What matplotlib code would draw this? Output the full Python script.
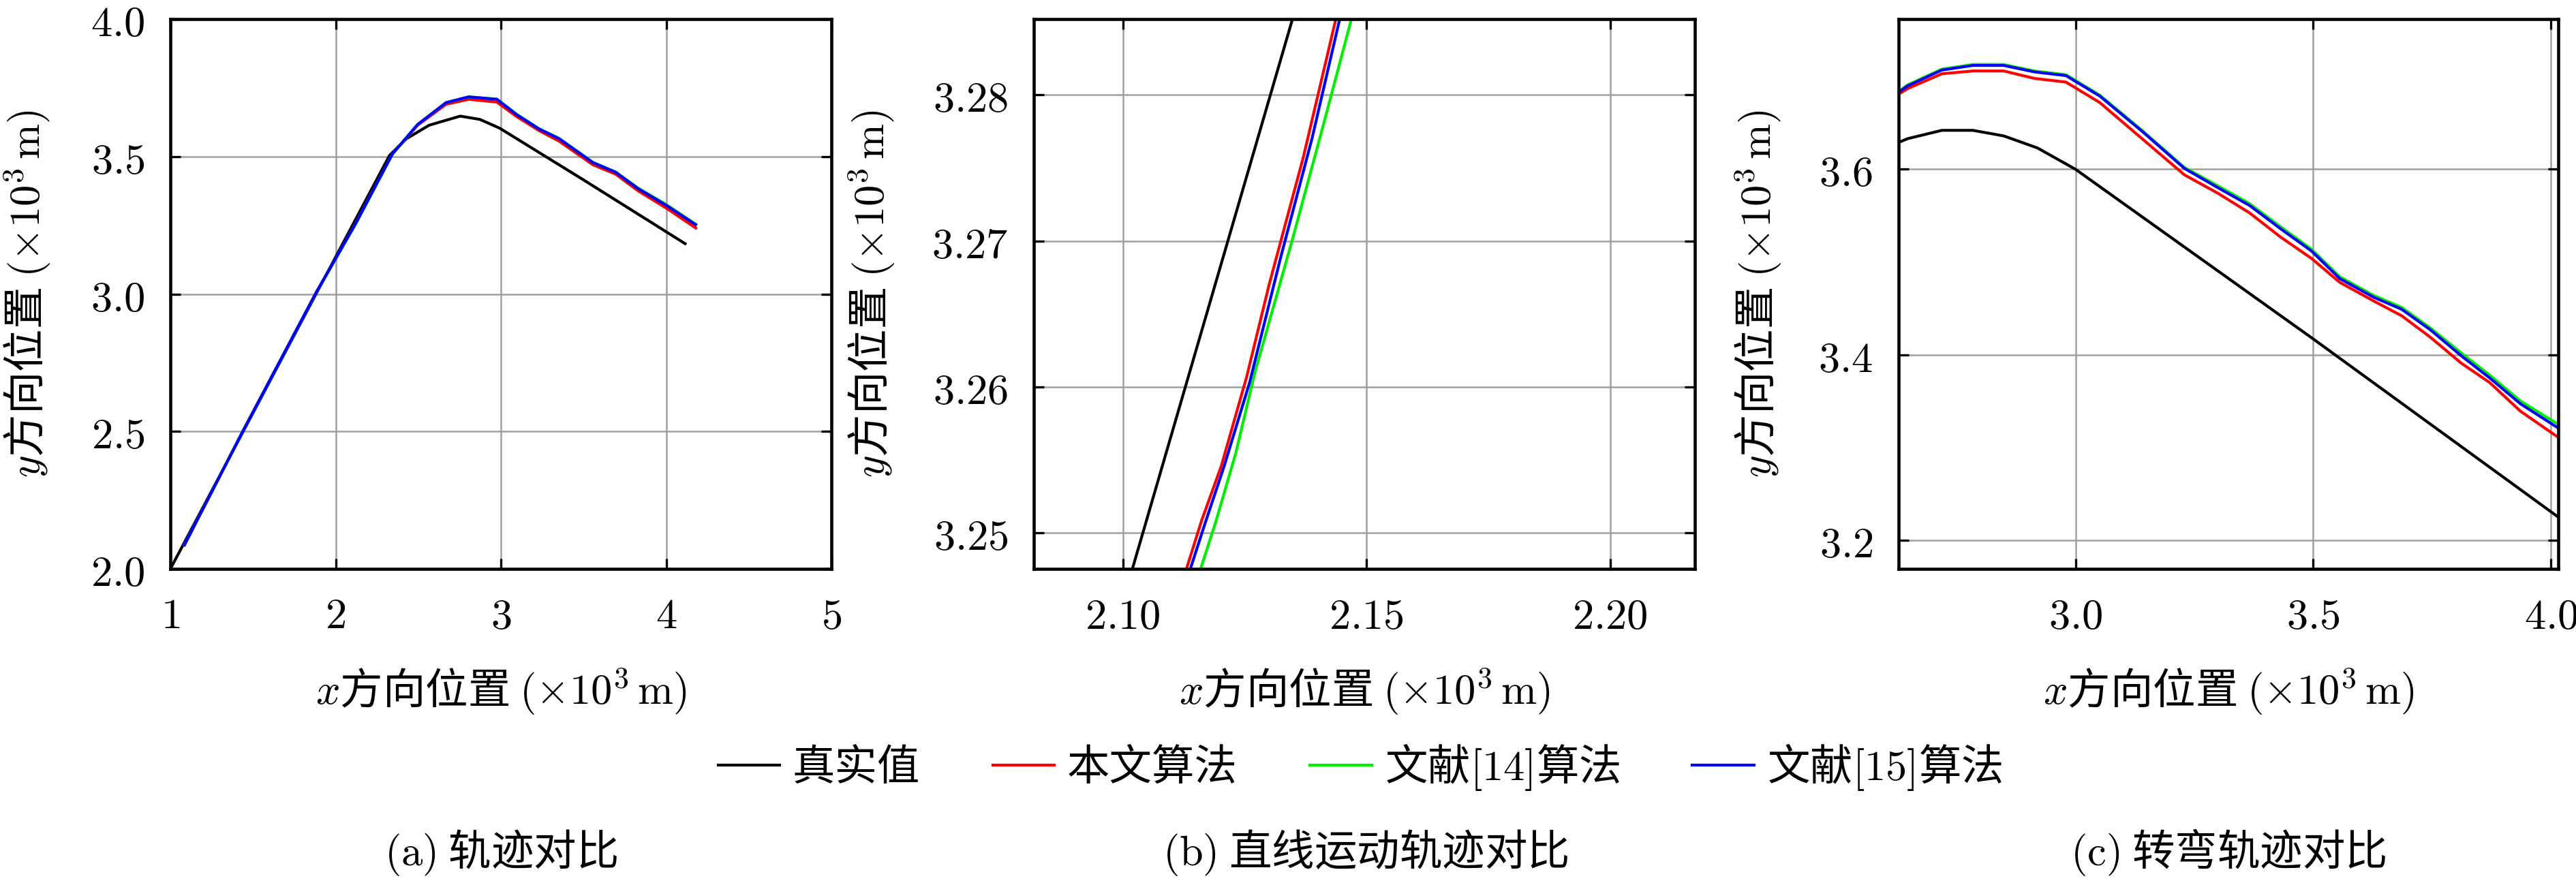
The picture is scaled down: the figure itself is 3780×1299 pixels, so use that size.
import numpy as np
import matplotlib
matplotlib.use("Agg")
import matplotlib.pyplot as plt

plt.rcParams['font.family'] = ['Noto Sans CJK SC', 'DejaVu Sans']
plt.rcParams['mathtext.fontset'] = 'cm'
plt.rcParams['font.size'] = 15

# ---- data (units: x10^3 m) ----
series_names = ["真实值", "本文算法", "文献$[14]$算法", "文献$[15]$算法"]
series_colors = ["black", "#ff0000", "#00ee00", "#0000ff"]

# (a) whole trajectory
a_true_x = [1.000, 2.326, 2.429, 2.566, 2.754, 2.873, 2.993, 3.500, 4.115]
a_true_y = [2.000, 3.504, 3.565, 3.614, 3.647, 3.635, 3.603, 3.415, 3.183]
a_est_x = [1.085, 1.438, 1.882, 2.121, 2.344, 2.497, 2.668, 2.805, 2.976,
           3.096, 3.232, 3.352, 3.557, 3.694, 3.831, 4.002, 4.179]
a_ours_y = [2.087, 2.500, 3.005, 3.257, 3.510, 3.614, 3.690, 3.708, 3.698,
            3.645, 3.594, 3.556, 3.470, 3.436, 3.375, 3.312, 3.240]
a_ref14_y = [2.087, 2.500, 3.004, 3.254, 3.509, 3.617, 3.696, 3.717, 3.709,
             3.654, 3.601, 3.566, 3.479, 3.444, 3.385, 3.325, 3.254]
a_ref15_y = [2.087, 2.500, 3.005, 3.256, 3.510, 3.617, 3.696, 3.717, 3.708,
             3.652, 3.600, 3.565, 3.478, 3.443, 3.383, 3.322, 3.252]

# (b) straight-line segment
b_true_x = [2.1019, 2.1348]
b_true_y = [3.2475, 3.2852]
b_ours_x = [2.1130, 2.1161, 2.1202, 2.1254, 2.1300, 2.1370, 2.1437]
b_ours_y = [3.2475, 3.2508, 3.2546, 3.2607, 3.2670, 3.2757, 3.2852]
b_ref14_x = [2.1159, 2.1190, 2.1231, 2.1271, 2.1347, 2.1411, 2.1469]
b_ref14_y = [3.2475, 3.2507, 3.2554, 3.2610, 3.2700, 3.2779, 3.2852]
b_ref15_x = [2.1138, 2.1167, 2.1208, 2.1260, 2.1324, 2.1388, 2.1445]
b_ref15_y = [3.2475, 3.2505, 3.2546, 3.2603, 3.2689, 3.2770, 3.2852]

# (c) turning segment
c_true_x = [2.628, 2.647, 2.719, 2.784, 2.849, 2.920, 3.000, 3.500, 4.015]
c_true_y = [3.629, 3.633, 3.642, 3.642, 3.636, 3.623, 3.600, 3.417, 3.225]
c_est_x = [2.628, 2.647, 2.719, 2.784, 2.849, 2.914, 2.980, 3.051, 3.140, 3.229,
           3.300, 3.366, 3.431, 3.496, 3.556, 3.627, 3.686, 3.746, 3.811, 3.871,
           3.936, 4.015]
c_ours_y = [3.681, 3.687, 3.703, 3.706, 3.706, 3.698, 3.694, 3.672, 3.633, 3.594,
            3.574, 3.553, 3.527, 3.504, 3.478, 3.458, 3.442, 3.419, 3.391, 3.370,
            3.339, 3.311]
c_ref14_y = [3.684, 3.691, 3.708, 3.713, 3.713, 3.706, 3.702, 3.680, 3.642, 3.602,
             3.582, 3.563, 3.538, 3.514, 3.484, 3.464, 3.451, 3.429, 3.402, 3.378,
             3.350, 3.325]
c_ref15_y = [3.683, 3.690, 3.707, 3.712, 3.712, 3.705, 3.701, 3.679, 3.641, 3.601,
             3.580, 3.561, 3.536, 3.512, 3.482, 3.462, 3.449, 3.427, 3.399, 3.375,
             3.347, 3.321]

a_xticks = [1, 2, 3, 4, 5]
a_xlabels = ["1", "2", "3", "4", "5"]
a_yticks = [2.0, 2.5, 3.0, 3.5, 4.0]
a_ylabels = ["2.0", "2.5", "3.0", "3.5", "4.0"]
b_xticks = [2.10, 2.15, 2.20]
b_xlabels = ["2.10", "2.15", "2.20"]
b_yticks = [3.25, 3.26, 3.27, 3.28]
b_ylabels = ["3.25", "3.26", "3.27", "3.28"]
c_xticks = [3.0, 3.5, 4.0]
c_xlabels = ["3.0", "3.5", "4.0"]
c_yticks = [3.2, 3.4, 3.6]
c_ylabels = ["3.2", "3.4", "3.6"]

captions = ["$\\mathrm{(a)}$ 轨迹对比", "$\\mathrm{(b)}$ 直线运动轨迹对比", "$\\mathrm{(c)}$ 转弯轨迹对比"]

xlabel = "$x$方向位置 $(\\times 10^3\\,\\mathrm{m})$"
ylabel = "$y$方向位置 $(\\times 10^3\\,\\mathrm{m})$"

W, H = 3780, 1299
fig = plt.figure(figsize=(W / 300, H / 300), dpi=300)

lefts = [250, 1517, 2786]
widths = [970, 970, 968]
bottom_px, top_px = 835, 28
axes = []
for l, w in zip(lefts, widths):
    ax = fig.add_axes([l / W, 1 - bottom_px / H, w / W, (bottom_px - top_px) / H])
    axes.append(ax)

lw = 1.0
ax = axes[0]
ax.plot(a_true_x, a_true_y, color=series_colors[0], lw=lw, label=series_names[0])
ax.plot(a_est_x, a_ours_y, color=series_colors[1], lw=lw, label=series_names[1])
ax.plot(a_est_x, a_ref14_y, color=series_colors[2], lw=lw, label=series_names[2])
ax.plot(a_est_x, a_ref15_y, color=series_colors[3], lw=lw, label=series_names[3])
ax.set_xlim(1, 5)
ax.set_ylim(2, 4)
ax.set_xticks(a_xticks, labels=["$%s$" % s for s in a_xlabels])
ax.set_yticks(a_yticks, labels=["$%s$" % s for s in a_ylabels])

ax = axes[1]
ax.plot(b_true_x, b_true_y, color=series_colors[0], lw=lw)
ax.plot(b_ours_x, b_ours_y, color=series_colors[1], lw=lw)
ax.plot(b_ref14_x, b_ref14_y, color=series_colors[2], lw=lw)
ax.plot(b_ref15_x, b_ref15_y, color=series_colors[3], lw=lw)
ax.set_xlim(2.0817, 2.2174)
ax.set_ylim(3.24754, 3.2852)
ax.set_xticks(b_xticks, labels=["$%s$" % s for s in b_xlabels])
ax.set_yticks(b_yticks, labels=["$%s$" % s for s in b_ylabels])

ax = axes[2]
ax.plot(c_true_x, c_true_y, color=series_colors[0], lw=lw)
ax.plot(c_est_x, c_ours_y, color=series_colors[1], lw=lw)
ax.plot(c_est_x, c_ref14_y, color=series_colors[2], lw=lw)
ax.plot(c_est_x, c_ref15_y, color=series_colors[3], lw=lw)
ax.set_xlim(2.628, 4.0154)
ax.set_ylim(3.169, 3.762)
ax.set_xticks(c_xticks, labels=["$%s$" % s for s in c_xlabels])
ax.set_yticks(c_yticks, labels=["$%s$" % s for s in c_ylabels])

ylab_x = [-0.177, -0.206, -0.174]
for ax, yx in zip(axes, ylab_x):
    ax.grid(True, color="#a0a0a0", lw=0.6)
    ax.set_axisbelow(True)
    for sp in ax.spines.values():
        sp.set_linewidth(1.1)
    ax.tick_params(direction="in", top=True, right=True, length=3.5, width=0.8,
                   pad=9, labelsize=15)
    ax.set_xlabel(xlabel, fontsize=15, va="top")
    ax.xaxis.set_label_coords(0.5, -0.178)
    ax.set_ylabel(ylabel, fontsize=15)
    ax.yaxis.set_label_coords(yx, 0.5)

handles, labels = axes[0].get_legend_handles_labels()
fig.legend(handles, labels, loc="center", bbox_to_anchor=(0.528, 0.133), ncol=4,
           frameon=False, fontsize=15, handlelength=1.45, handletextpad=0.3,
           columnspacing=1.7)

cap_x = [735 / W, 2004 / W, 3270 / W]
for cx, cap in zip(cap_x, captions):
    fig.text(cx, 1 - 1251 / H, cap, ha="center", va="center", fontsize=15)

fig.savefig("out.png", dpi=300)
